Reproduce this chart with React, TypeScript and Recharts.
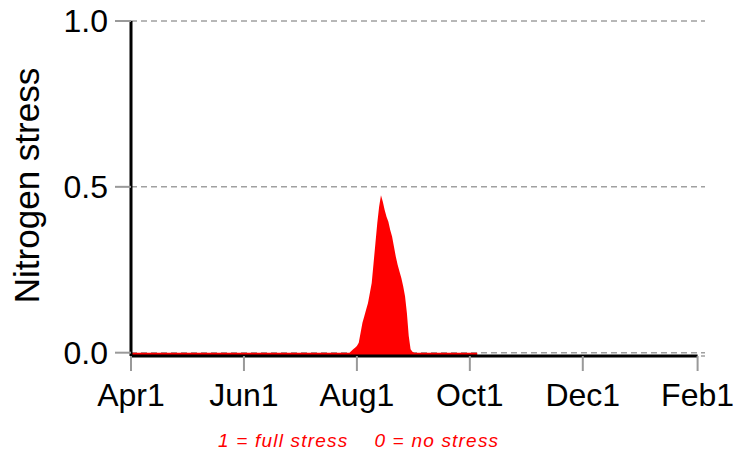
import { AreaChart, Area, XAxis, YAxis, CartesianGrid, ReferenceLine } from "recharts";

// Days counted from Apr 1. Nitrogen stress index, 0 = none, 1 = full.
const days = [
  0, 60, 118, 120, 121, 122, 123, 124, 125, 126, 127, 128, 129, 130, 131, 132, 133, 134, 135, 136,
  137, 138, 139, 140, 141, 142, 143, 144, 145, 146, 147, 148, 149, 150, 151, 152, 153, 187,
];
const stress = [
  0, 0, 0, 0.01, 0.015, 0.02, 0.03, 0.06, 0.09, 0.11, 0.13, 0.15, 0.18, 0.21, 0.27, 0.33, 0.39, 0.44, 0.475, 0.455,
  0.43, 0.41, 0.395, 0.37, 0.35, 0.32, 0.29, 0.265, 0.245, 0.225, 0.2, 0.17, 0.12, 0.05, 0.01, 0.003, 0, 0,
];

const monthTicks = [0, 61, 122, 183, 244, 306];
const monthLabels = ["Apr1", "Jun1", "Aug1", "Oct1", "Dec1", "Feb1"];
const yTicks = [0, 0.5, 1];

const data = days.map((d, i) => ({ day: d, n: stress[i] }));

const FONT = "'Liberation Sans', Arial, sans-serif";

// eslint-disable-next-line @typescript-eslint/no-explicit-any
const YLabel = (props: any) => {
  const vb = props.viewBox || { y: 21, height: 335 };
  const cy = vb.y + vb.height / 2 - 3;
  return (
    <text x={39} y={cy} transform={`rotate(-90, 39, ${cy})`} textAnchor="middle" fontSize={35} fill="#000" fontFamily={FONT}>
      Nitrogen stress
    </text>
  );
};

export default function App() {
  return (
    <div style={{ position: "absolute", left: 0, top: 0, width: 753, height: 455, background: "#fff", fontFamily: FONT }}>
      <AreaChart width={753} height={455} data={data} margin={{ top: 21, right: 48, left: 0, bottom: 0 }}>
        <CartesianGrid vertical={false} stroke="#a0a0a0" strokeWidth={1.5} strokeDasharray="6 4" />
        <XAxis
          dataKey="day"
          type="number"
          domain={[0, 310]}
          ticks={monthTicks}
          tickFormatter={(v: number) => monthLabels[monthTicks.indexOf(v)]}
          height={99}
          axisLine={false}
          tickSize={15}
          tickMargin={12}
          tickLine={{ stroke: "#999", strokeWidth: 2 }}
          tick={{ fontSize: 32, fill: "#000", fontFamily: FONT }}
          interval={0}
        />
        <YAxis
          type="number"
          domain={[-0.01, 1]}
          ticks={yTicks}
          tickFormatter={(v: number) => v.toFixed(1)}
          width={131}
          axisLine={{ stroke: "#000", strokeWidth: 3 }}
          tickSize={16}
          tickMargin={7}
          tickLine={{ stroke: "#999", strokeWidth: 2 }}
          tick={{ fontSize: 32, fill: "#000", fontFamily: FONT }}
          label={<YLabel />}
        />
        <Area
          dataKey="n"
          type="linear"
          baseValue="dataMin"
          fill="#ff0000"
          fillOpacity={1}
          stroke="none"
          isAnimationActive={false}
        />
        <ReferenceLine
          segment={[
            { x: 0, y: -0.01 },
            { x: 306, y: -0.01 },
          ]}
          stroke="#000"
          strokeWidth={3}
        />
      </AreaChart>
      <div
        style={{
          position: "absolute",
          left: 218,
          top: 431,
          fontSize: 19,
          lineHeight: "19px",
          letterSpacing: 1.2,
          fontStyle: "italic",
          color: "#ff0000",
          whiteSpace: "pre",
        }}
      >
        {"1 = full stress    0 = no stress"}
      </div>
    </div>
  );
}
